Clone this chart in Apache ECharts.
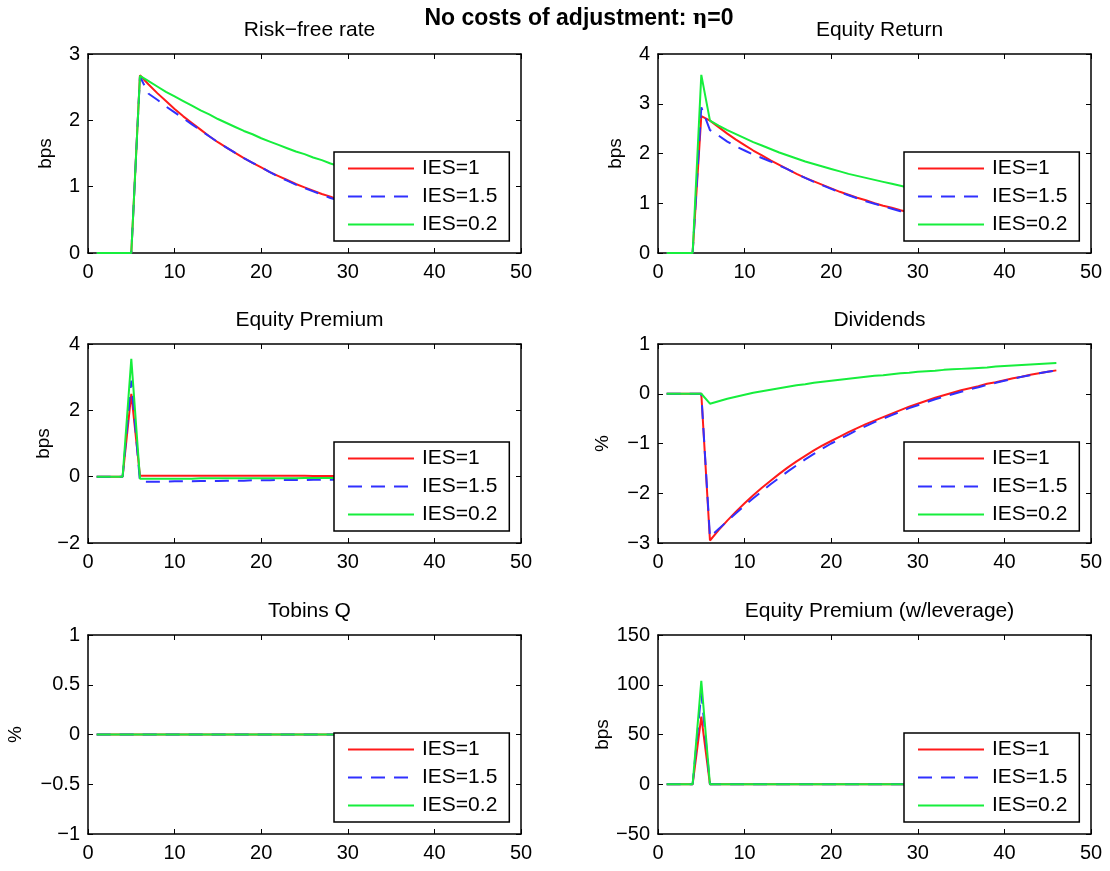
<!DOCTYPE html>
<html>
<head>
<meta charset="utf-8">
<title>No costs of adjustment</title>
<script src="https://cdn.jsdelivr.net/npm/echarts@6/dist/echarts.min.js"></script>
<style>
  html, body { margin: 0; padding: 0; background: #fff; }
  #chart { width: 1110px; height: 871px; }
</style>
</head>
<body>
<div id="chart"></div>
<script>
// periods after the shock
const periods = [1, 2, 3, 4, 5, 6, 7, 8, 9, 10, 11, 12, 13, 14, 15, 16, 17, 18, 19, 20,
  21, 22, 23, 24, 25, 26, 27, 28, 29, 30, 31, 32, 33, 34, 35, 36, 37, 38, 39, 40,
  41, 42, 43, 44, 45, 46]
const seriesNames = ['IES=1', 'IES=1.5', 'IES=0.2']

// Risk-free rate (bps)
const riskFreeIes1 = [0, 0, 0, 0, 0, 2.68, 2.54, 2.41, 2.29, 2.17, 2.06, 1.96, 1.86, 1.76, 1.67,
  1.59, 1.51, 1.43, 1.36, 1.29, 1.22, 1.16, 1.10, 1.04, 0.99, 0.94, 0.89, 0.85, 0.80, 0.76,
  0.72, 0.69, 0.65, 0.62, 0.59, 0.56, 0.53, 0.50, 0.48, 0.45, 0.43, 0.41, 0.39, 0.37, 0.35, 0.33]
const riskFreeIes15 = [0, 0, 0, 0, 0, 2.66, 2.40, 2.31, 2.21, 2.12, 2.03, 1.94, 1.85, 1.76, 1.67,
  1.59, 1.51, 1.43, 1.36, 1.29, 1.22, 1.15, 1.09, 1.03, 0.98, 0.93, 0.88, 0.83, 0.79, 0.75,
  0.71, 0.67, 0.64, 0.61, 0.58, 0.55, 0.52, 0.49, 0.47, 0.44, 0.42, 0.40, 0.38, 0.36, 0.34, 0.32]
const riskFreeIes02 = [0, 0, 0, 0, 0, 2.67, 2.59, 2.51, 2.43, 2.36, 2.29, 2.22, 2.15, 2.09, 2.02,
  1.96, 1.90, 1.84, 1.79, 1.73, 1.68, 1.63, 1.58, 1.53, 1.49, 1.44, 1.40, 1.35, 1.31, 1.27,
  1.24, 1.20, 1.16, 1.13, 1.09, 1.06, 1.03, 1.00, 0.97, 0.94, 0.91, 0.88, 0.85, 0.83, 0.80, 0.78]

// Equity return (bps)
const equityRetIes1 = [0, 0, 0, 0, 2.75, 2.66, 2.53, 2.40, 2.28, 2.17, 2.06, 1.96, 1.86, 1.77, 1.68,
  1.59, 1.51, 1.44, 1.37, 1.30, 1.23, 1.17, 1.11, 1.06, 1.00, 0.95, 0.91, 0.86, 0.82, 0.78,
  0.74, 0.70, 0.67, 0.63, 0.60, 0.57, 0.54, 0.52, 0.49, 0.47, 0.44, 0.42, 0.40, 0.38, 0.36, 0.34]
const equityRetIes15 = [0, 0, 0, 0, 2.93, 2.47, 2.36, 2.24, 2.14, 2.06, 1.98, 1.91, 1.84, 1.76, 1.68,
  1.59, 1.51, 1.43, 1.36, 1.29, 1.22, 1.16, 1.10, 1.04, 0.99, 0.94, 0.89, 0.84, 0.80, 0.76,
  0.72, 0.68, 0.65, 0.62, 0.59, 0.56, 0.53, 0.50, 0.48, 0.45, 0.43, 0.41, 0.39, 0.37, 0.35, 0.33]
const equityRetIes02 = [0, 0, 0, 0, 3.58, 2.66, 2.56, 2.47, 2.39, 2.31, 2.23, 2.16, 2.09, 2.02, 1.96,
  1.90, 1.84, 1.79, 1.74, 1.69, 1.64, 1.59, 1.55, 1.51, 1.47, 1.43, 1.39, 1.35, 1.31, 1.28,
  1.24, 1.21, 1.18, 1.15, 1.12, 1.09, 1.06, 1.03, 1.00, 0.98, 0.95, 0.93, 0.90, 0.88, 0.86, 0.83]

// Equity premium (bps)
const premiumIes1 = [0, 0, 0, 0, 2.50, 0.03, 0.03, 0.03, 0.03, 0.03, 0.03, 0.03, 0.03, 0.03, 0.03,
  0.03, 0.03, 0.03, 0.03, 0.03, 0.03, 0.03, 0.03, 0.03, 0.03, 0.02, 0.02, 0.02, 0.02, 0.02,
  0.02, 0.02, 0.02, 0.02, 0.02, 0.02, 0.02, 0.02, 0.02, 0.02, 0.02, 0.02, 0.02, 0.02, 0.02, 0.02]
const premiumIes15 = [0, 0, 0, 0, 2.90, -0.15, -0.15, -0.15, -0.15, -0.14, -0.14, -0.14, -0.13, -0.13, -0.13,
  -0.12, -0.12, -0.12, -0.11, -0.11, -0.11, -0.10, -0.10, -0.10, -0.10, -0.09, -0.09, -0.09, -0.09, -0.08,
  -0.08, -0.08, -0.08, -0.08, -0.07, -0.07, -0.07, -0.07, -0.07, -0.07, -0.06, -0.06, -0.06, -0.06, -0.06, -0.06]
const premiumIes02 = [0, 0, 0, 0, 3.55, -0.06, -0.06, -0.06, -0.06, -0.06, -0.06, -0.06, -0.05, -0.05, -0.05,
  -0.05, -0.05, -0.05, -0.05, -0.05, -0.05, -0.05, -0.05, -0.05, -0.04, -0.04, -0.04, -0.04, -0.04, -0.04,
  -0.04, -0.04, -0.04, -0.04, -0.04, -0.04, -0.04, -0.04, -0.04, -0.04, -0.04, -0.04, -0.04, -0.04, -0.04, -0.04]

// Dividends (%)
const dividendIes1 = [0, 0, 0, 0, 0, -2.95, -2.74, -2.55, -2.37, -2.20, -2.04, -1.89, -1.75, -1.61, -1.48,
  -1.36, -1.25, -1.14, -1.04, -0.95, -0.86, -0.77, -0.69, -0.61, -0.54, -0.47, -0.40, -0.33, -0.26, -0.20,
  -0.14, -0.08, -0.03, 0.02, 0.07, 0.11, 0.15, 0.20, 0.23, 0.27, 0.31, 0.34, 0.38, 0.41, 0.44, 0.47]
const dividendIes15 = [0, 0, 0, 0, 0, -2.88, -2.72, -2.56, -2.40, -2.25, -2.10, -1.96, -1.82, -1.69, -1.56,
  -1.44, -1.32, -1.21, -1.10, -1.00, -0.91, -0.82, -0.73, -0.65, -0.57, -0.50, -0.43, -0.36, -0.29, -0.23,
  -0.17, -0.11, -0.06, -0.01, 0.04, 0.09, 0.13, 0.18, 0.22, 0.26, 0.30, 0.34, 0.37, 0.41, 0.44, 0.47]
const dividendIes02 = [0, 0, 0, 0, 0, -0.20, -0.15, -0.10, -0.06, -0.02, 0.02, 0.05, 0.08, 0.11, 0.14,
  0.17, 0.19, 0.22, 0.24, 0.26, 0.28, 0.30, 0.32, 0.34, 0.36, 0.37, 0.39, 0.41, 0.42, 0.44,
  0.45, 0.46, 0.48, 0.49, 0.50, 0.51, 0.52, 0.53, 0.55, 0.56, 0.57, 0.58, 0.59, 0.60, 0.61, 0.62]

// Tobins Q (%)
const tobinsIes1 = [0, 0, 0, 0, 0, 0, 0, 0, 0, 0, 0, 0, 0, 0, 0, 0, 0, 0, 0, 0, 0, 0, 0,
  0, 0, 0, 0, 0, 0, 0, 0, 0, 0, 0, 0, 0, 0, 0, 0, 0, 0, 0, 0, 0, 0, 0]
const tobinsIes15 = [0, 0, 0, 0, 0, 0, 0, 0, 0, 0, 0, 0, 0, 0, 0, 0, 0, 0, 0, 0, 0, 0, 0,
  0, 0, 0, 0, 0, 0, 0, 0, 0, 0, 0, 0, 0, 0, 0, 0, 0, 0, 0, 0, 0, 0, 0]
const tobinsIes02 = [0, 0, 0, 0, 0, 0, 0, 0, 0, 0, 0, 0, 0, 0, 0, 0, 0, 0, 0, 0, 0, 0, 0,
  0, 0, 0, 0, 0, 0, 0, 0, 0, 0, 0, 0, 0, 0, 0, 0, 0, 0, 0, 0, 0, 0, 0]

// Equity premium with leverage (bps)
const levPremiumIes1 = [0, 0, 0, 0, 68, 0, 0, 0, 0, 0, 0, 0, 0, 0, 0, 0, 0, 0, 0, 0, 0, 0, 0,
  0, 0, 0, 0, 0, 0, 0, 0, 0, 0, 0, 0, 0, 0, 0, 0, 0, 0, 0, 0, 0, 0, 0]
const levPremiumIes15 = [0, 0, 0, 0, 92, 0, 0, 0, 0, 0, 0, 0, 0, 0, 0, 0, 0, 0, 0, 0, 0, 0, 0,
  0, 0, 0, 0, 0, 0, 0, 0, 0, 0, 0, 0, 0, 0, 0, 0, 0, 0, 0, 0, 0, 0, 0]
const levPremiumIes02 = [0, 0, 0, 0, 104, 0, 0, 0, 0, 0, 0, 0, 0, 0, 0, 0, 0, 0, 0, 0, 0, 0, 0,
  0, 0, 0, 0, 0, 0, 0, 0, 0, 0, 0, 0, 0, 0, 0, 0, 0, 0, 0, 0, 0, 0, 0]

const FONT = 'Liberation Sans, Arial, Helvetica, sans-serif'
const colors = ['#ff1a1a', '#3030ff', '#16ee3c']
const dashes = ['solid', [14, 9], 'solid']

const colLeft = [88, 658]
const rowTop = [54, 344, 635]
const plotW = 433
const plotH = 199

const panels = [
  { title: 'Risk\u2212free rate', yName: 'bps', nameGap: 33, min: 0, max: 3, step: 1, col: 0, row: 0,
    lines: [riskFreeIes1, riskFreeIes15, riskFreeIes02] },
  { title: 'Equity Return', yName: 'bps', nameGap: 33, min: 0, max: 4, step: 1, col: 1, row: 0,
    lines: [equityRetIes1, equityRetIes15, equityRetIes02] },
  { title: 'Equity Premium', yName: 'bps', nameGap: 33, min: -2, max: 4, step: 2, col: 0, row: 1,
    lines: [premiumIes1, premiumIes15, premiumIes02] },
  { title: 'Dividends', yName: '%', nameGap: 46, min: -3, max: 1, step: 1, col: 1, row: 1,
    lines: [dividendIes1, dividendIes15, dividendIes02] },
  { title: 'Tobins Q', yName: '%', nameGap: 63, min: -1, max: 1, step: 0.5, col: 0, row: 2,
    lines: [tobinsIes1, tobinsIes15, tobinsIes02] },
  { title: 'Equity Premium (w/leverage)', yName: 'bps', nameGap: 33, min: -50, max: 150, step: 50, col: 1, row: 2,
    lines: [levPremiumIes1, levPremiumIes15, levPremiumIes02] }
]

const minus = v => String(v).replace('-', '\u2212')
const boxLine = { show: true, onZero: false, lineStyle: { color: '#000', width: 1.5 } }
const inTick = { show: true, inside: true, length: 5, lineStyle: { color: '#000', width: 1 } }

const option = {
  animation: false,
  backgroundColor: '#fff',
  textStyle: { fontFamily: FONT },
  title: [{
    text: '{b|No costs of adjustment: }{n|\u03b7}{b|=0}',
    left: 574,
    top: 2,
    textAlign: 'center',
    textStyle: {
      rich: {
        b: { fontFamily: FONT, fontWeight: 'bold', fontSize: 23, color: '#000' },
        n: { fontFamily: 'DejaVu Serif', fontSize: 20, color: '#000' }
      }
    }
  }],
  grid: [],
  xAxis: [],
  yAxis: [],
  legend: [],
  series: []
}

panels.forEach((p, i) => {
  const left = colLeft[p.col]
  const top = rowTop[p.row]
  option.title.push({
    text: p.title,
    left: left + plotW / 2,
    top: top - 39,
    textAlign: 'center',
    textStyle: { fontFamily: FONT, fontSize: 21, fontWeight: 'normal', color: '#000' }
  })
  option.grid.push({ left: left, top: top, width: plotW, height: plotH, containLabel: false, outerBoundsMode: 'none' })
  option.xAxis.push({
    gridIndex: i, type: 'value', position: 'bottom', min: 0, max: 50, interval: 10,
    axisLine: boxLine, axisTick: inTick, splitLine: { show: false },
    axisLabel: { fontSize: 20, color: '#000', margin: 9, fontFamily: FONT }
  })
  option.xAxis.push({
    gridIndex: i, type: 'value', position: 'top', min: 0, max: 50, interval: 10,
    axisLine: boxLine, axisTick: inTick, splitLine: { show: false }, axisLabel: { show: false }
  })
  option.yAxis.push({
    gridIndex: i, type: 'value', position: 'left', min: p.min, max: p.max, interval: p.step,
    axisLine: boxLine, axisTick: inTick, splitLine: { show: false },
    axisLabel: { fontSize: 20, color: '#000', margin: 8, fontFamily: FONT, formatter: minus },
    name: p.yName, nameLocation: 'middle', nameRotate: 90, nameGap: p.nameGap,
    nameTextStyle: { fontSize: 19, color: '#000', fontFamily: FONT }
  })
  option.yAxis.push({
    gridIndex: i, type: 'value', position: 'right', min: p.min, max: p.max, interval: p.step,
    axisLine: boxLine, axisTick: inTick, splitLine: { show: false }, axisLabel: { show: false }
  })
  p.lines.forEach((vals, k) => {
    option.series.push({
      type: 'line',
      name: seriesNames[k],
      xAxisIndex: i * 2,
      yAxisIndex: i * 2,
      data: periods.map((t, j) => [t, vals[j]]),
      symbol: 'none',
      showSymbol: false,
      clip: true,
      z: 2,
      lineStyle: { color: colors[k], width: 2, type: dashes[k] },
      itemStyle: { color: colors[k] }
    })
  })
  option.legend.push({
    data: seriesNames,
    z: 20,
    left: left + 246,
    top: top + 98,
    orient: 'vertical',
    selectedMode: false,
    backgroundColor: '#fff',
    borderColor: '#000',
    borderWidth: 1.5,
    borderRadius: 0,
    padding: [6, 12, 6, 13],
    itemGap: 7,
    itemWidth: 66,
    itemHeight: 14,
    itemStyle: { opacity: 0 },
    textStyle: { fontSize: 21, color: '#000', fontFamily: FONT, padding: [0, 0, 0, 3] }
  })
})

const chart = echarts.init(document.getElementById('chart'))
chart.setOption(option)
</script>
</body>
</html>
